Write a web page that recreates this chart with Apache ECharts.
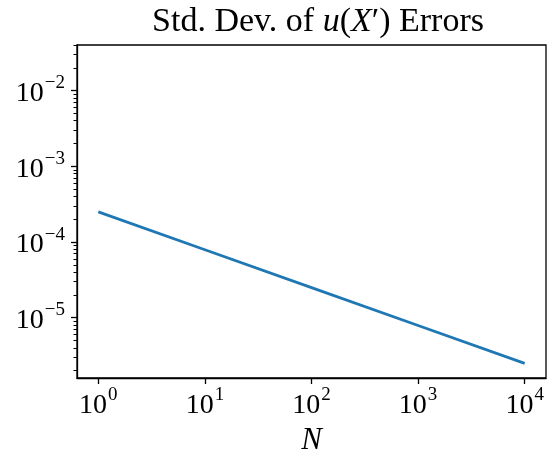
<!DOCTYPE html>
<html>
<head>
<meta charset="utf-8">
<script src="https://cdn.jsdelivr.net/npm/echarts@6/dist/echarts.min.js"></script>
<style>
  html, body { margin: 0; padding: 0; background: #fff; }
  #chart { width: 547px; height: 450px; }
</style>
</head>
<body>
<div id="chart"></div>
<script>
// data
var nValues = [1, 10, 100, 1000, 10000]
var stdErrors = [2.5e-4, 7.9e-5, 2.5e-5, 7.9e-6, 2.5e-6]

var xTicks = [1, 10, 100, 1000, 10000]
var xExps = ['0', '1', '2', '3', '4']
var yTicks = [1e-5, 1e-4, 1e-3, 1e-2]
var yExps = ['\u22125', '\u22124', '\u22123', '\u22122']

var xMin = Math.pow(10, -0.2)
var xMax = Math.pow(10, 4.2)
var yMin = 1.6e-6
var yMax = 4e-2

// minor ticks on the y axis (2..9 x each decade)
var yMinor = []
for (var e = -6; e <= -2; e++) {
  for (var m = 2; m <= 9; m++) {
    var v = m * Math.pow(10, e)
    if (v >= yMin && v <= yMax) yMinor.push(v)
  }
}

var serif = "'Liberation Serif', 'DejaVu Serif', serif"

function powLabel(ticks, exps) {
  return function (val) {
    for (var i = 0; i < ticks.length; i++) {
      if (Math.abs(Math.log10(val) - Math.log10(ticks[i])) < 1e-6) {
        return '{b|10}{s|' + exps[i] + '}'
      }
    }
    return ''
  }
}

var labelRich = {
  b: { fontFamily: serif, fontSize: 28, color: '#000', verticalAlign: 'bottom', lineHeight: 34 },
  s: { fontFamily: serif, fontSize: 19, color: '#000', verticalAlign: 'top', padding: [0, 0, 14, 1] }
}

var chart = echarts.init(document.getElementById('chart'), null, { renderer: 'canvas' })

chart.setOption({
  animation: false,
  backgroundColor: '#fff',
  title: {
    text: '{r|Std. Dev. of }{i|u}{r|(}{i|X}{r|\u2032) Errors}',
    left: 313,
    textAlign: 'center',
    top: 0,
    textStyle: {
      rich: {
        r: { fontFamily: serif, fontSize: 34, color: '#000', fontWeight: 'normal' },
        i: { fontFamily: serif, fontSize: 34, color: '#000', fontStyle: 'italic', fontWeight: 'normal' }
      }
    }
  },
  grid: {
    left: 77,
    right: 1,
    top: 45,
    bottom: 72,
    outerBoundsMode: 'none',
    containLabel: false,
    show: true,
    borderColor: '#000',
    borderWidth: 1.3,
    backgroundColor: 'transparent'
  },
  xAxis: [{
    type: 'log',
    min: xMin,
    max: xMax,
    name: 'N',
    nameLocation: 'middle',
    nameGap: 43,
    nameTextStyle: { fontFamily: serif, fontSize: 31, fontStyle: 'italic', color: '#000' },
    axisLine: { show: true, lineStyle: { color: '#000', width: 1.3 } },
    axisTick: { show: true, length: 6, lineStyle: { color: '#000', width: 1.3 }, customValues: xTicks },
    axisLabel: { margin: 8, formatter: powLabel(xTicks, xExps), rich: labelRich, customValues: xTicks },
    splitLine: { show: false }
  }],
  yAxis: [{
    type: 'log',
    min: yMin,
    max: yMax,
    axisLine: { show: true, lineStyle: { color: '#000', width: 1.3 } },
    axisTick: { show: true, length: 6, lineStyle: { color: '#000', width: 1.3 }, customValues: yTicks },
    axisLabel: { margin: 12, formatter: powLabel(yTicks, yExps), rich: labelRich, customValues: yTicks },
    splitLine: { show: false }
  }, {
    type: 'log',
    min: yMin,
    max: yMax,
    position: 'left',
    axisLine: { show: false },
    axisTick: { show: true, length: 3.5, lineStyle: { color: '#000', width: 1 }, customValues: yMinor },
    axisLabel: { show: false },
    splitLine: { show: false }
  }],
  series: [{
    type: 'line',
    xAxisIndex: 0,
    yAxisIndex: 0,
    data: nValues.map(function (n, i) { return [n, stdErrors[i]] }),
    showSymbol: false,
    lineStyle: { color: '#1f77b4', width: 2.8 },
    itemStyle: { color: '#1f77b4' }
  }]
})
</script>
</body>
</html>
